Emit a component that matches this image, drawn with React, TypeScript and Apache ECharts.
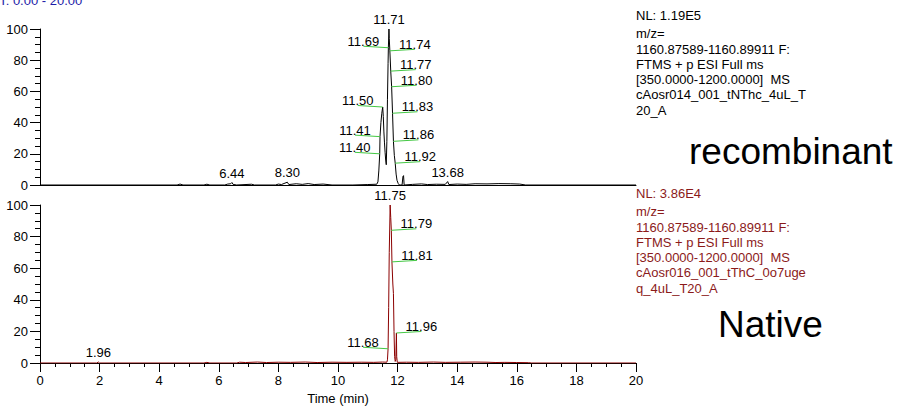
import React, { useEffect, useRef } from "react";
import * as echarts from "echarts";

const FONT = "'Liberation Sans', Arial, Helvetica, sans-serif";

// Extracted ion chromatograms: [retention time (min), relative abundance (%)]
const recombinantTrace: [number, number][] = [
  [0, 0], [4.6, 0], [4.7, 0.6], [4.8, 0], [5.5, 0], [5.6, 0.5], [5.7, 0],
  [6.2, 0], [6.3, 0.6], [6.4, 0.8], [6.44, 1.6], [6.48, 0.4], [6.6, 0],
  [7.1, 0.5], [7.2, 0], [7.9, 0], [8.0, 0.6], [8.1, 0.3], [8.3, 1.8],
  [8.35, 0.3], [8.6, 0.8], [8.8, 0.4], [9.0, 0.9], [9.2, 0.3], [9.5, 0.6],
  [9.8, 0], [10.5, 0], [11.0, 0.3], [11.3, 0.5], [11.34, 2], [11.37, 9],
  [11.4, 20], [11.41, 31], [11.44, 40], [11.47, 46], [11.5, 50], [11.52, 44],
  [11.54, 34], [11.56, 27], [11.58, 21], [11.6, 16], [11.62, 13], [11.64, 28],
  [11.66, 55], [11.68, 78], [11.69, 88], [11.71, 100], [11.72, 94],
  [11.74, 86], [11.77, 73], [11.8, 63], [11.83, 46], [11.86, 28],
  [11.89, 19], [11.92, 14], [11.95, 7], [11.98, 3], [12.02, 1], [12.06, 0],
  [12.15, 0], [12.18, 5.5], [12.2, 6], [12.22, 0], [12.5, 0.4], [12.8, 0.7],
  [13.0, 0.3], [13.3, 0.5], [13.6, 0.4], [13.68, 2.2], [13.72, 0.3],
  [14.0, 0.6], [14.3, 0.4], [14.6, 0.8], [15.0, 0.7], [15.4, 0.9],
  [15.8, 0.8], [16.1, 0.6], [16.3, 0], [20, 0],
];

const nativeTrace: [number, number][] = [
  [0, 0], [1.9, 0], [1.96, 0.6], [2.0, 0], [5.5, 0], [5.6, 0.4], [5.7, 0],
  [6.6, 0], [6.7, 0.5], [6.9, 0.3], [7.3, 0.6], [7.6, 0.3], [8.0, 0.5],
  [8.4, 0.4], [8.9, 0.6], [9.3, 0.3], [9.8, 0.5], [10.3, 0.4], [10.8, 0.5],
  [11.2, 0.4], [11.5, 0.6], [11.64, 0.5], [11.66, 2], [11.68, 9], [11.7, 35],
  [11.72, 70], [11.75, 100], [11.77, 92], [11.79, 84], [11.81, 64],
  [11.84, 50], [11.86, 44], [11.88, 20], [11.9, 4], [11.92, 1], [11.94, 2],
  [11.96, 19], [11.97, 4], [11.99, 0.4], [12.3, 0.5], [12.7, 0.4],
  [13.2, 0.6], [13.6, 0.4], [14.1, 0.5], [14.6, 0.6], [15.0, 0.5],
  [15.3, 0.3], [15.6, 0.4], [16.0, 0.3], [16.4, 0.2], [16.5, 0], [20, 0],
];

// Peak retention-time labels, grouped by how they are annotated
const recombinantApexLabels = [11.71, 6.44, 8.3, 13.68];
const recombinantLeftLabels = [11.69, 11.5, 11.41, 11.4];
const recombinantRightLabels = [11.74, 11.77, 11.8, 11.83, 11.86, 11.92];
const nativeApexLabels = [11.75, 1.96];
const nativeLeftLabels = [11.68];
const nativeRightLabels = [11.79, 11.81, 11.96];

const timeRangeHeader = "RT: 0.00 - 20.00";

const recombinantInfo = [
  "NL: 1.19E5",
  "m/z=",
  "1160.87589-1160.89911 F:",
  "FTMS + p ESI Full ms",
  "[350.0000-1200.0000]\u00a0 MS",
  "cAosr014_001_tNThc_4uL_T",
  "20_A",
];
const nativeInfo = [
  "NL: 3.86E4",
  "m/z=",
  "1160.87589-1160.89911 F:",
  "FTMS + p ESI Full ms",
  "[350.0000-1200.0000]\u00a0 MS",
  "cAosr016_001_tThC_0o7uge",
  "q_4uL_T20_A",
];

const sampleNames = ["recombinant", "Native"];

function abundanceAt(trace: [number, number][], t: number): number {
  const hit = trace.find((p) => Math.abs(p[0] - t) < 1e-9);
  return hit ? hit[1] : 0;
}

function peakLabelSeries(
  trace: [number, number][],
  apex: number[],
  left: number[],
  right: number[],
  axisIndex: number
) {
  const data = [
    ...apex.map((t) => [t, abundanceAt(trace, t), 0]),
    ...left.map((t) => [t, abundanceAt(trace, t), -1]),
    ...right.map((t) => [t, abundanceAt(trace, t), 1]),
  ];
  return {
    type: "custom",
    xAxisIndex: axisIndex,
    yAxisIndex: axisIndex,
    data,
    z: 5,
    silent: true,
    clip: false,
    renderItem: (_params: any, api: any) => {
      const t = api.value(0);
      const v = api.value(1);
      const side = api.value(2);
      const p = api.coord([t, v]);
      const text = Number(t).toFixed(2);
      if (side === 0) {
        return {
          type: "text",
          style: {
            text,
            x: p[0],
            y: p[1] - 3,
            align: "center",
            verticalAlign: "bottom",
            font: `13px ${FONT}`,
            fill: "#000",
          },
        };
      }
      const lx = p[0] + side * 25;
      return {
        type: "group",
        children: [
          {
            type: "line",
            shape: { x1: p[0], y1: p[1], x2: lx, y2: p[1] - 1.5 },
            style: { stroke: "#44c844", lineWidth: 1 },
          },
          {
            type: "text",
            style: {
              text,
              x: lx,
              y: p[1] - 6.5,
              align: "center",
              verticalAlign: "middle",
              font: `13px ${FONT}`,
              fill: "#000",
            },
          },
        ],
      };
    },
  };
}

function infoBlock(lines: string[], top: number, color: string) {
  const offsets = [0, 18, 34, 49, 64, 79, 95];
  return lines.map((line, i) => ({
    type: "text",
    left: 636,
    top: top + offsets[i] - 8,
    style: { text: line, font: `13px ${FONT}`, fill: color },
  }));
}

function yAxisFor(gridIndex: number) {
  return {
    type: "value",
    gridIndex,
    min: 0,
    max: 100,
    interval: 20,
    axisLine: { show: true, lineStyle: { color: "#000", width: 1 } },
    axisTick: { show: true, length: 10, lineStyle: { color: "#000" } },
    minorTick: { show: true, splitNumber: 4, length: 5, lineStyle: { color: "#000" } },
    splitLine: { show: false },
    minorSplitLine: { show: false },
    axisLabel: { margin: 12, fontSize: 13, fontFamily: FONT, color: "#000" },
  };
}

export default function App() {
  const ref = useRef<HTMLDivElement>(null);

  useEffect(() => {
    if (!ref.current) return;
    const chart = echarts.init(ref.current, undefined, { renderer: "svg" });
    chart.setOption({
      animation: false,
      backgroundColor: "#fff",
      grid: [
        { left: 40, top: 29, width: 596, height: 156 },
        { left: 40, top: 205, width: 596, height: 158 },
      ],
      xAxis: [
        {
          type: "value",
          gridIndex: 0,
          min: 0,
          max: 20,
          interval: 2,
          axisLine: { show: true, onZero: false, lineStyle: { color: "#000", width: 1 } },
          axisTick: { show: false },
          axisLabel: { show: false },
          splitLine: { show: false },
        },
        {
          type: "value",
          gridIndex: 1,
          min: 0,
          max: 20,
          interval: 2,
          axisLine: { show: true, onZero: false, lineStyle: { color: "#000", width: 1 } },
          axisTick: { show: true, length: 9, lineStyle: { color: "#000" } },
          minorTick: { show: true, splitNumber: 4, length: 4, lineStyle: { color: "#000" } },
          splitLine: { show: false },
          minorSplitLine: { show: false },
          axisLabel: { margin: 11, fontSize: 13, fontFamily: FONT, color: "#000" },
          name: "Time (min)",
          nameLocation: "middle",
          nameGap: 29,
          nameTextStyle: { fontSize: 13, fontFamily: FONT, color: "#000" },
        },
      ],
      yAxis: [yAxisFor(0), yAxisFor(1)],
      series: [
        {
          type: "line",
          xAxisIndex: 0,
          yAxisIndex: 0,
          data: recombinantTrace,
          showSymbol: false,
          symbol: "none",
          lineStyle: { color: "#000", width: 1 },
          z: 3,
        },
        {
          type: "line",
          xAxisIndex: 1,
          yAxisIndex: 1,
          data: nativeTrace,
          showSymbol: false,
          symbol: "none",
          lineStyle: { color: "#8b0000", width: 1 },
          z: 3,
        },
        peakLabelSeries(recombinantTrace, recombinantApexLabels, recombinantLeftLabels, recombinantRightLabels, 0),
        peakLabelSeries(nativeTrace, nativeApexLabels, nativeLeftLabels, nativeRightLabels, 1),
      ],
      graphic: [
        {
          type: "text",
          left: -10,
          top: -6,
          style: { text: timeRangeHeader, font: `13px ${FONT}`, fill: "#1c1ca8" },
        },
        ...infoBlock(recombinantInfo, 17, "#000"),
        ...infoBlock(nativeInfo, 195, "#8b1a1a"),
        {
          type: "text",
          left: 689,
          top: 133,
          style: { text: sampleNames[0], font: `37px ${FONT}`, fill: "#000" },
        },
        {
          type: "text",
          left: 718,
          top: 306,
          style: { text: sampleNames[1], font: `37px ${FONT}`, fill: "#000" },
        },
      ],
    });
    return () => chart.dispose();
  }, []);

  return (
    <div
      ref={ref}
      style={{ position: "absolute", left: 0, top: 0, width: 899, height: 406, background: "#fff" }}
    />
  );
}
